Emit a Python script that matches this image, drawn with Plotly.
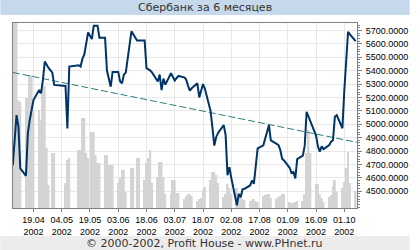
import plotly.graph_objects as go

# ---------------- data ----------------
dates = [
    "2002-04-08", "2002-04-09", "2002-04-10", "2002-04-11", "2002-04-12",
    "2002-04-15", "2002-04-16", "2002-04-17", "2002-04-18", "2002-04-19",
    "2002-04-22", "2002-04-23", "2002-04-24", "2002-04-25", "2002-04-26", "2002-04-27",
    "2002-04-29", "2002-04-30",
    "2002-05-06", "2002-05-07", "2002-05-08",
    "2002-05-13", "2002-05-14", "2002-05-15", "2002-05-16", "2002-05-17", "2002-05-18",
    "2002-05-20", "2002-05-21", "2002-05-22", "2002-05-23", "2002-05-24",
    "2002-05-27", "2002-05-28", "2002-05-29", "2002-05-30", "2002-05-31",
    "2002-06-03", "2002-06-04", "2002-06-05", "2002-06-06", "2002-06-07",
    "2002-06-10", "2002-06-11", "2002-06-13", "2002-06-14",
    "2002-06-17", "2002-06-18", "2002-06-19", "2002-06-20", "2002-06-21",
    "2002-06-24", "2002-06-25", "2002-06-26", "2002-06-27", "2002-06-28",
    "2002-07-01", "2002-07-02", "2002-07-03", "2002-07-04", "2002-07-05",
    "2002-07-08", "2002-07-09", "2002-07-10", "2002-07-11", "2002-07-12",
    "2002-07-15", "2002-07-16", "2002-07-17", "2002-07-18", "2002-07-19",
    "2002-07-22", "2002-07-23", "2002-07-24", "2002-07-25", "2002-07-26",
    "2002-07-29", "2002-07-30", "2002-07-31", "2002-08-01", "2002-08-02",
    "2002-08-05", "2002-08-06", "2002-08-07", "2002-08-08", "2002-08-09",
    "2002-08-12", "2002-08-13", "2002-08-14", "2002-08-15", "2002-08-16",
    "2002-08-19", "2002-08-20", "2002-08-21", "2002-08-22", "2002-08-23",
    "2002-08-26", "2002-08-27", "2002-08-28", "2002-08-29", "2002-08-30",
    "2002-09-02", "2002-09-03", "2002-09-04", "2002-09-05", "2002-09-06",
    "2002-09-09", "2002-09-10", "2002-09-11", "2002-09-12", "2002-09-13",
    "2002-09-16", "2002-09-17", "2002-09-18", "2002-09-19", "2002-09-20",
    "2002-09-23", "2002-09-24", "2002-09-25", "2002-09-26", "2002-09-27",
    "2002-09-30", "2002-10-01", "2002-10-02", "2002-10-03", "2002-10-04",
    "2002-10-07",
]

price = [
    4693, 4870, 5068, 4985, 4670,
    4615, 4930, 5030, 5100, 5180,
    5255, 5230, 5330, 5467, 5443, 5420,
    5385, 5293,
    5285, 4968, 5430,
    5440, 5430, 5490, 5520, 5605, 5685,
    5635, 5735, 5735, 5735, 5645,
    5645, 5400, 5330, 5280, 5390,
    5390, 5318, 5305, 5370, 5385,
    5693, 5670, 5625, 5625,
    5625, 5418, 5410, 5400, 5385,
    5318, 5370, 5255, 5340, 5295,
    5380, 5350, 5325, 5345, 5360,
    5350, 5335, 5290, 5250, 5268,
    5305, 5200, 5260, 5300, 5265,
    5100, 4975, 4840, 4905, 4935,
    4993, 4920, 4620, 4680, 4600,
    4395, 4480, 4455, 4515, 4518,
    4543, 4580, 4555, 4720, 4820,
    4843, 4893, 4930, 4993, 4880,
    4855, 4845, 4810, 4743, 4730,
    4675, 4635, 4643, 4595, 4740,
    4765, 4840, 5093, 5055, 5020,
    4915, 4835, 4795, 4835, 4815,
    4845, 4870, 4880, 5055, 5068,
    4970, 5250, 5480, 5690, 5670,
    5620,
]

volume = [
    200, 200, 200, 108, 106,
    110, 110, 133, 133, 98,
    98, 88, 120, 122, 60, 23,
    55, 55,
    25, 48, 50,
    58, 58, 90, 90, 55, 50,
    76, 76, 53, 45, 45,
    53, 53, 43, 43, 43,
    25, 30, 38, 38, 16,
    40, 40, 50, 50,
    28, 45, 50, 58, 25,
    31, 46, 46, 31, 14,
    14, 28, 28, 15, 15,
    9, 12, 14, 14, 12,
    7, 9, 10, 18, 21,
    28, 36, 36, 33, 25,
    11, 14, 24, 20, 14,
    20, 15, 12, 9, 8,
    7, 8, 9, 7, 6,
    12, 13, 14, 14, 10,
    9, 11, 12, 14, 14,
    6, 5, 5, 6, 7,
    7, 14, 55, 78, 55,
    24, 24, 14, 10, 6,
    11, 13, 22, 28, 16,
    20, 26, 40, 56, 25,
    17,
]

trend_dates = ["2002-04-08", "2002-10-08"]
trend_values = [5386, 4864]

tick_dates = ["2002-04-19", "2002-05-04", "2002-05-19", "2002-06-03",
              "2002-06-18", "2002-07-03", "2002-07-18", "2002-08-02",
              "2002-08-17", "2002-09-01", "2002-09-16", "2002-10-01"]
tick_labels = ["19.04<br>2002", "04.05<br>2002", "19.05<br>2002", "03.06<br>2002",
               "18.06<br>2002", "03.07<br>2002", "18.07<br>2002", "02.08<br>2002",
               "17.08<br>2002", "01.09<br>2002", "16.09<br>2002", "01.10<br>2002"]

price_ticks = [4500, 4600, 4700, 4800, 4900, 5000, 5100, 5200, 5300, 5400,
               5500, 5600, 5700]

title_text = "Сбербанк за 6 месяцев"
footer_text = "© 2000-2002, Profit House - www.PHnet.ru"

# ---------------- figure ----------------
W, H = 420, 250
ML, MR, MT, MB = 13, 54, 23, 42
PW, PH = W - ML - MR, H - MT - MB


def py(y_px):
    return (H - MB - y_px) / PH


def px(x_px):
    return (x_px - ML) / PW


fig = go.Figure()
fig.add_trace(go.Bar(
    x=dates, y=volume, yaxis="y",
    width=86400000,
    marker=dict(color="#d4d4d4", line=dict(width=0)),
    hoverinfo="skip", showlegend=False,
))
fig.add_trace(go.Scatter(
    x=trend_dates, y=trend_values, yaxis="y2", mode="lines",
    line=dict(color="#2e7d7f", width=1, dash="7px,3px"),
    hoverinfo="skip", showlegend=False,
))
fig.add_trace(go.Scatter(
    x=dates, y=price, yaxis="y2", mode="lines",
    line=dict(color="#003366", width=2),
    showlegend=False,
))

tick_font = dict(family="Liberation Sans, Arial, sans-serif", size=9, color="#000000")

fig.update_layout(
    width=W, height=H,
    margin=dict(l=ML, r=MR, t=MT, b=MB, pad=0),
    paper_bgcolor="#ffffff",
    plot_bgcolor="#ffffff",
    showlegend=False,
    xaxis=dict(
        type="date",
        range=["2002-04-08 03:00", "2002-10-07 18:00"],
        tickmode="array", tickvals=tick_dates, ticktext=tick_labels,
        showgrid=True, gridcolor="#e8e8e8", gridwidth=1,
        showline=True, linecolor="#808080", linewidth=1, mirror=True,
        ticks="outside", ticklen=3, tickcolor="#808080",
        tickfont=tick_font, zeroline=False,
    ),
    yaxis=dict(
        range=[0, 185], visible=False, showgrid=False, zeroline=False,
        fixedrange=True,
    ),
    yaxis2=dict(
        overlaying="y", side="right",
        range=[4375, 5755],
        tickmode="array", tickvals=price_ticks,
        tickformat=".4f",
        showgrid=True, gridcolor="#e8e8e8", gridwidth=1,
        showline=True, linecolor="#808080", linewidth=1, mirror=True,
        ticks="outside", ticklen=4, tickcolor="#808080",
        minor=dict(ticks="outside", ticklen=2, dtick=20, tickcolor="#808080",
                   showgrid=False),
        tickfont=tick_font, zeroline=False,
        ticklabelstandoff=2,
    ),
    shapes=[
        dict(type="rect", xref="paper", yref="paper",
             x0=px(0), x1=px(W), y0=py(15), y1=py(0),
             fillcolor="#c6d9ec", line=dict(width=0), layer="below"),
        dict(type="rect", xref="paper", yref="paper",
             x0=px(0), x1=px(W), y0=py(H), y1=py(236),
             fillcolor="#ececec", line=dict(width=0), layer="below"),
    ],
    annotations=[
        dict(text=title_text, xref="paper", yref="paper",
             x=px(W / 2), y=py(7.5), xanchor="center", yanchor="middle",
             showarrow=False,
             font=dict(family="DejaVu Sans, Verdana, sans-serif", size=11, color="#333333")),
        dict(text=footer_text, xref="paper", yref="paper",
             x=px(W / 2), y=py(243), xanchor="center", yanchor="middle",
             showarrow=False,
             font=dict(family="DejaVu Sans, Verdana, sans-serif", size=11, color="#333333")),
    ],
)

fig.write_html("out.html")
